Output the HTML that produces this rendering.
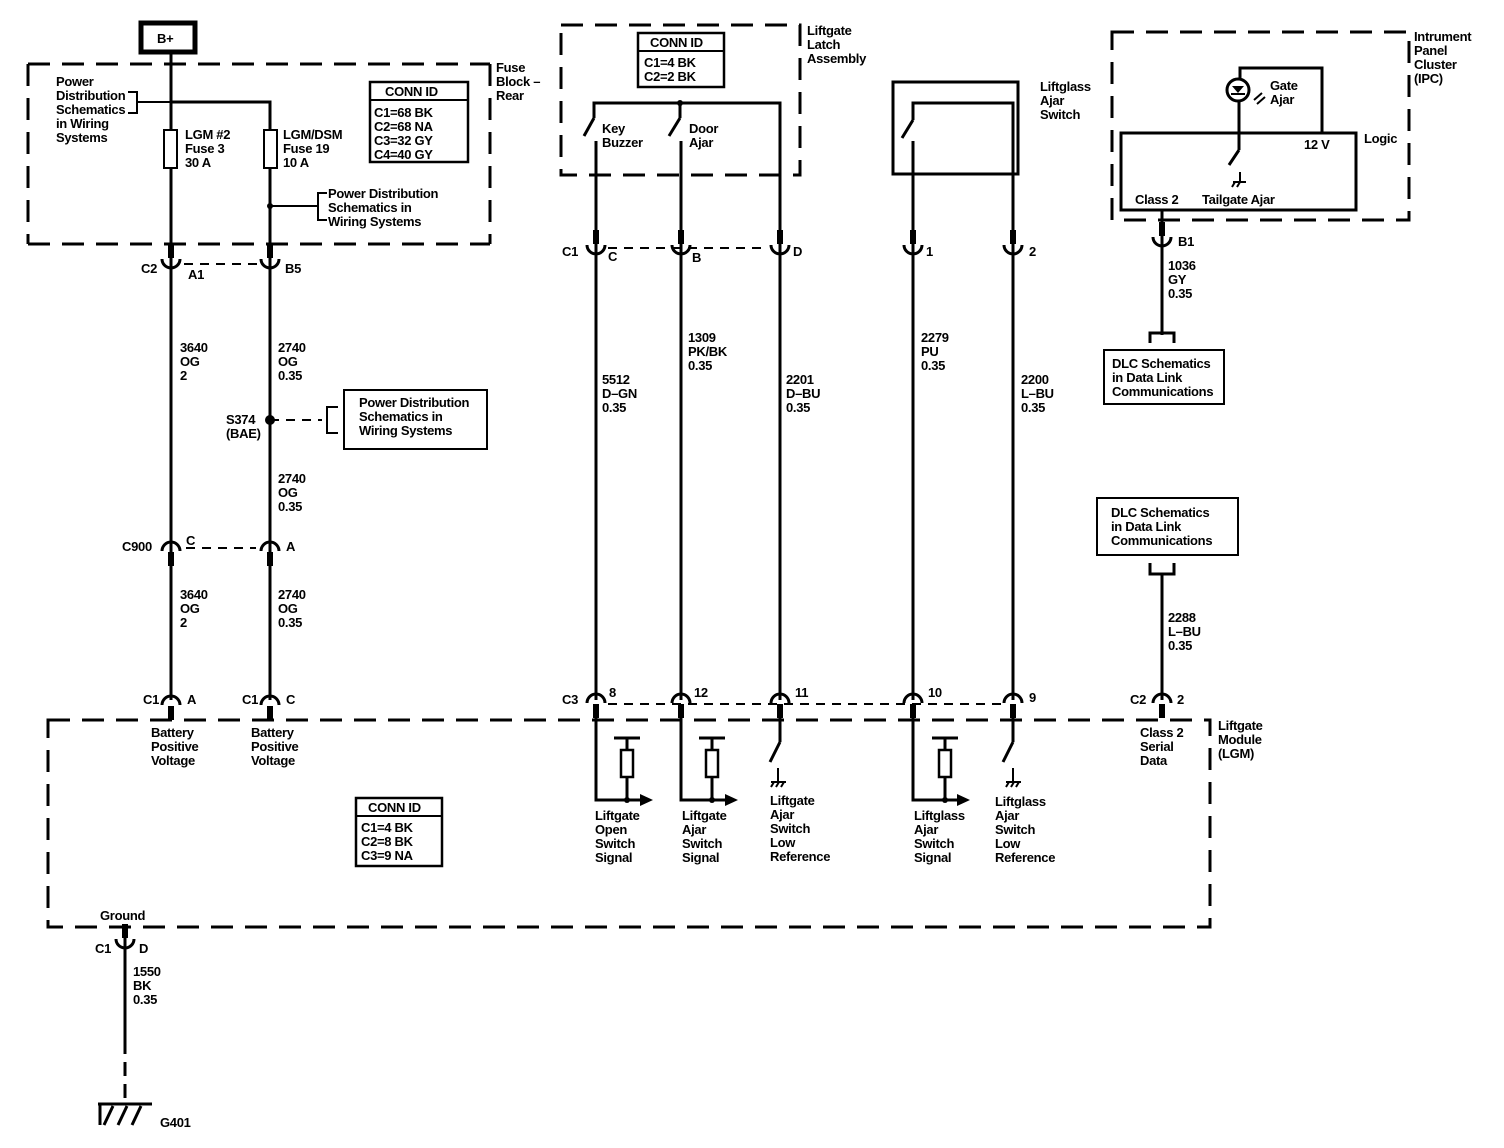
<!DOCTYPE html>
<html><head><style>
html,body{margin:0;padding:0;background:#fff}
svg{display:block}
text{font-family:"Liberation Sans",Arial,sans-serif;font-size:13px;font-weight:bold;fill:#000;letter-spacing:-0.3px}
.w{stroke:#000;stroke-width:3;fill:none}
.t{stroke:#000;stroke-width:2;fill:none}
.d{stroke:#000;stroke-width:3;fill:none;stroke-dasharray:22,12}
.ds{stroke:#000;stroke-width:2;fill:none;stroke-dasharray:9,7}
</style></head><body>
<svg width="1504" height="1148" viewBox="0 0 1504 1148">
<defs>
<g id="dn"><path class="w" d="M-9,-5 A9,9 0 0 0 9,-5"/><rect x="-3" y="-20" width="6" height="14" fill="#000"/></g>
<g id="up"><path class="w" d="M-9,5 A9,9 0 0 1 9,5"/><rect x="-3" y="6" width="6" height="14" fill="#000"/></g>
</defs>

<!-- B+ -->
<rect x="141" y="23" width="54" height="29" fill="none" stroke="#000" stroke-width="5"/>
<text x="157" y="43">B+</text>

<!-- Fuse block -->
<path class="d" d="M28,64 L490,64 M490,64 L490,244 M28,244 L490,244 M28,64 L28,244"/>
<text x="496" y="72">Fuse</text><text x="496" y="86">Block –</text><text x="496" y="100">Rear</text>
<text x="56" y="86">Power</text><text x="56" y="100">Distribution</text><text x="56" y="114">Schematics</text><text x="56" y="128">in Wiring</text><text x="56" y="142">Systems</text>
<path class="t" d="M128,92 L137,92 L137,113 L128,113"/>
<line class="t" x1="137" y1="102" x2="171" y2="102"/>
<line class="w" x1="171" y1="52" x2="171" y2="700"/>
<polyline class="w" points="171,102 270,102 270,700"/>
<rect x="164" y="130" width="13" height="38" fill="#fff" stroke="#000" stroke-width="2"/>
<rect x="264" y="130" width="13" height="38" fill="#fff" stroke="#000" stroke-width="2"/>
<text x="185" y="139">LGM #2</text><text x="185" y="153">Fuse 3</text><text x="185" y="167">30 A</text>
<text x="283" y="139">LGM/DSM</text><text x="283" y="153">Fuse 19</text><text x="283" y="167">10 A</text>
<circle cx="270" cy="206" r="3"/>
<line class="t" x1="270" y1="206" x2="318" y2="206"/>
<path class="t" d="M327,193 L318,193 L318,220 L327,220"/>
<text x="328" y="198">Power Distribution</text><text x="328" y="212">Schematics in</text><text x="328" y="226">Wiring Systems</text>
<rect x="370" y="82" width="98" height="80" fill="none" stroke="#000" stroke-width="2.5"/>
<line class="t" x1="370" y1="100" x2="468" y2="100"/>
<text x="385" y="96">CONN ID</text>
<text x="374" y="117">C1=68 BK</text><text x="374" y="131">C2=68 NA</text><text x="374" y="145">C3=32 GY</text><text x="374" y="159">C4=40 GY</text>

<!-- C2 connectors -->
<rect x="0" y="0" width="0" height="0"/>
<use href="#dn" x="171" y="264"/><use href="#dn" x="270" y="264"/>
<line class="ds" x1="184" y1="264" x2="258" y2="264"/>
<text x="141" y="273">C2</text><text x="188" y="279">A1</text><text x="285" y="273">B5</text>
<text x="180" y="352">3640</text><text x="180" y="366">OG</text><text x="180" y="380">2</text>
<text x="278" y="352">2740</text><text x="278" y="366">OG</text><text x="278" y="380">0.35</text>
<circle cx="270" cy="420" r="5"/>
<line class="ds" x1="270" y1="420" x2="322" y2="420"/>
<path class="t" d="M338,407 L327,407 L327,433 L338,433"/>
<rect x="344" y="390" width="143" height="59" fill="none" stroke="#000" stroke-width="2"/>
<text x="359" y="407">Power Distribution</text><text x="359" y="421">Schematics in</text><text x="359" y="435">Wiring Systems</text>
<text x="226" y="424">S374</text><text x="226" y="438">(BAE)</text>
<text x="278" y="483">2740</text><text x="278" y="497">OG</text><text x="278" y="511">0.35</text>
<use href="#up" x="171" y="546"/><use href="#up" x="270" y="546"/>
<line class="ds" x1="186" y1="548" x2="256" y2="548"/>
<text x="122" y="551">C900</text><text x="186" y="545">C</text><text x="286" y="551">A</text>
<text x="180" y="599">3640</text><text x="180" y="613">OG</text><text x="180" y="627">2</text>
<text x="278" y="599">2740</text><text x="278" y="613">OG</text><text x="278" y="627">0.35</text>
<use href="#up" x="171" y="700"/><use href="#up" x="270" y="700"/>
<text x="143" y="704">C1</text><text x="187" y="704">A</text>
<text x="242" y="704">C1</text><text x="286" y="704">C</text>
<text x="151" y="737">Battery</text><text x="151" y="751">Positive</text><text x="151" y="765">Voltage</text>
<text x="251" y="737">Battery</text><text x="251" y="751">Positive</text><text x="251" y="765">Voltage</text>

<!-- Module -->
<path class="d" d="M48,720 L1210,720 L1210,927 L48,927 Z"/>
<text x="1218" y="730">Liftgate</text><text x="1218" y="744">Module</text><text x="1218" y="758">(LGM)</text>
<rect x="356" y="798" width="86" height="68" fill="none" stroke="#000" stroke-width="2.5"/>
<line class="t" x1="356" y1="816" x2="442" y2="816"/>
<text x="368" y="812">CONN ID</text>
<text x="361" y="832">C1=4 BK</text><text x="361" y="846">C2=8 BK</text><text x="361" y="860">C3=9 NA</text>
<text x="100" y="920">Ground</text>
<use href="#dn" x="125" y="944"/>
<text x="95" y="953">C1</text><text x="139" y="953">D</text>
<line class="w" x1="125" y1="927" x2="125" y2="944"/>
<line class="w" x1="125" y1="944" x2="125" y2="1040"/>
<line class="w" x1="125" y1="1040" x2="125" y2="1104" stroke-dasharray="14,8"/>
<text x="133" y="976">1550</text><text x="133" y="990">BK</text><text x="133" y="1004">0.35</text>
<path class="w" d="M98,1104 L152,1104 M100,1104 L100,1125 M113,1106 L104,1125 M127,1106 L118,1125 M141,1106 L132,1125"/>
<text x="160" y="1127">G401</text>

<!-- Liftgate latch -->
<path class="d" d="M561,25 L800,25 L800,175 L561,175 Z"/>
<text x="807" y="35">Liftgate</text><text x="807" y="49">Latch</text><text x="807" y="63">Assembly</text>
<rect x="638" y="33" width="86" height="54" fill="none" stroke="#000" stroke-width="2.5"/>
<line class="t" x1="638" y1="51" x2="724" y2="51"/>
<text x="650" y="47">CONN ID</text>
<text x="644" y="67">C1=4 BK</text><text x="644" y="81">C2=2 BK</text>
<polyline class="w" points="594,118 594,103 780,103 780,700"/>
<circle cx="680" cy="103" r="3"/>
<line class="w" x1="680" y1="103" x2="680" y2="118"/>
<line class="w" x1="594" y1="118" x2="584" y2="136"/>
<line class="w" x1="680" y1="118" x2="669" y2="136"/>
<line class="w" x1="596" y1="141" x2="596" y2="700"/>
<line class="w" x1="681" y1="141" x2="681" y2="700"/>
<text x="602" y="133">Key</text><text x="602" y="147">Buzzer</text>
<text x="689" y="133">Door</text><text x="689" y="147">Ajar</text>
<use href="#dn" x="596" y="250"/><use href="#dn" x="681" y="250"/><use href="#dn" x="780" y="250"/>
<line class="ds" x1="608" y1="248" x2="768" y2="248"/>
<text x="562" y="256">C1</text><text x="608" y="261">C</text><text x="692" y="262">B</text><text x="793" y="256">D</text>
<text x="602" y="384">5512</text><text x="602" y="398">D–GN</text><text x="602" y="412">0.35</text>
<text x="688" y="342">1309</text><text x="688" y="356">PK/BK</text><text x="688" y="370">0.35</text>
<text x="786" y="384">2201</text><text x="786" y="398">D–BU</text><text x="786" y="412">0.35</text>

<!-- Liftglass switch -->
<rect x="893" y="82" width="125" height="92" fill="none" stroke="#000" stroke-width="3"/>
<polyline class="w" points="913,120 913,103 1013,103 1013,700"/>
<line class="w" x1="913" y1="120" x2="902" y2="138"/>
<line class="w" x1="913" y1="141" x2="913" y2="700"/>
<text x="1040" y="91">Liftglass</text><text x="1040" y="105">Ajar</text><text x="1040" y="119">Switch</text>
<use href="#dn" x="913" y="250"/><use href="#dn" x="1013" y="250"/>
<text x="926" y="256">1</text><text x="1029" y="256">2</text>
<text x="921" y="342">2279</text><text x="921" y="356">PU</text><text x="921" y="370">0.35</text>
<text x="1021" y="384">2200</text><text x="1021" y="398">L–BU</text><text x="1021" y="412">0.35</text>

<!-- C3 module connectors -->
<use href="#up" x="596" y="698"/><use href="#up" x="681" y="698"/><use href="#up" x="780" y="698"/><use href="#up" x="913" y="698"/><use href="#up" x="1013" y="698"/>
<line class="ds" x1="608" y1="704" x2="1003" y2="704"/>
<text x="562" y="704">C3</text><text x="609" y="697">8</text><text x="694" y="697">12</text><text x="795" y="697">11</text><text x="928" y="697">10</text><text x="1029" y="702">9</text>
<!-- internal signal circuits -->
<g>
<polyline class="w" points="596,718 596,800 640,800"/><path d="M640,794 L653,800 L640,806Z"/>
<line class="w" x1="627" y1="738" x2="627" y2="800"/><line class="w" x1="614" y1="738" x2="640" y2="738"/>
<rect x="621" y="750" width="12" height="27" fill="#fff" stroke="#000" stroke-width="2.5"/><circle cx="627" cy="800" r="3"/>
</g>
<g>
<polyline class="w" points="681,718 681,800 725,800"/><path d="M725,794 L738,800 L725,806Z"/>
<line class="w" x1="712" y1="738" x2="712" y2="800"/><line class="w" x1="699" y1="738" x2="725" y2="738"/>
<rect x="706" y="750" width="12" height="27" fill="#fff" stroke="#000" stroke-width="2.5"/><circle cx="712" cy="800" r="3"/>
</g>
<g>
<polyline class="w" points="913,718 913,800 957,800"/><path d="M957,794 L970,800 L957,806Z"/>
<line class="w" x1="945" y1="738" x2="945" y2="800"/><line class="w" x1="932" y1="738" x2="958" y2="738"/>
<rect x="939" y="750" width="12" height="27" fill="#fff" stroke="#000" stroke-width="2.5"/><circle cx="945" cy="800" r="3"/>
</g>
<line class="w" x1="780" y1="718" x2="780" y2="742"/><line class="w" x1="780" y1="742" x2="770" y2="762"/>
<path class="t" d="M778,768 L778,782 M771,782 L786,782 M774,782 L771,787 M779,782 L776,787 M784,782 L781,787"/>
<line class="w" x1="1013" y1="718" x2="1013" y2="742"/><line class="w" x1="1013" y1="742" x2="1003" y2="762"/>
<path class="t" d="M1013,768 L1013,782 M1006,782 L1021,782 M1009,782 L1006,787 M1014,782 L1011,787 M1019,782 L1016,787"/>
<text x="595" y="820">Liftgate</text><text x="595" y="834">Open</text><text x="595" y="848">Switch</text><text x="595" y="862">Signal</text>
<text x="682" y="820">Liftgate</text><text x="682" y="834">Ajar</text><text x="682" y="848">Switch</text><text x="682" y="862">Signal</text>
<text x="770" y="805">Liftgate</text><text x="770" y="819">Ajar</text><text x="770" y="833">Switch</text><text x="770" y="847">Low</text><text x="770" y="861">Reference</text>
<text x="914" y="820">Liftglass</text><text x="914" y="834">Ajar</text><text x="914" y="848">Switch</text><text x="914" y="862">Signal</text>
<text x="995" y="806">Liftglass</text><text x="995" y="820">Ajar</text><text x="995" y="834">Switch</text><text x="995" y="848">Low</text><text x="995" y="862">Reference</text>

<!-- IPC -->
<path class="d" d="M1112,32 L1409,32 L1409,220 L1112,220 Z"/>
<text x="1414" y="41">Intrument</text><text x="1414" y="55">Panel</text><text x="1414" y="69">Cluster</text><text x="1414" y="83">(IPC)</text>
<rect x="1121" y="133" width="235" height="77" fill="none" stroke="#000" stroke-width="3"/>
<text x="1364" y="143">Logic</text>
<polyline class="w" points="1240,80 1240,68 1322,68 1322,133"/>
<circle cx="1238" cy="90" r="11" fill="none" stroke="#000" stroke-width="3"/>
<path d="M1232,86 L1244,86 L1238,93Z"/><line class="t" x1="1231" y1="94" x2="1245" y2="94"/>
<path class="t" d="M1254,100 L1262,93 M1257,104 L1265,97"/>
<text x="1270" y="90">Gate</text><text x="1270" y="104">Ajar</text>
<line class="w" x1="1239" y1="101" x2="1239" y2="150"/><line class="w" x1="1239" y1="150" x2="1229" y2="165"/>
<path class="t" d="M1240,172 L1240,182 M1233,182 L1246,182 M1235,182 L1232,187 M1240,182 L1237,187"/>
<text x="1304" y="149">12 V</text>
<text x="1135" y="204">Class 2</text><text x="1202" y="204">Tailgate Ajar</text>
<line class="w" x1="1162" y1="210" x2="1162" y2="335"/>
<use href="#dn" x="1162" y="242"/>
<text x="1178" y="246">B1</text>
<text x="1168" y="270">1036</text><text x="1168" y="284">GY</text><text x="1168" y="298">0.35</text>
<path class="w" d="M1150,343 L1150,333 L1174,333 L1174,343"/>
<rect x="1104" y="350" width="120" height="54" fill="none" stroke="#000" stroke-width="2"/>
<text x="1112" y="368">DLC Schematics</text><text x="1112" y="382">in Data Link</text><text x="1112" y="396">Communications</text>
<rect x="1097" y="498" width="141" height="57" fill="none" stroke="#000" stroke-width="2"/>
<text x="1111" y="517">DLC Schematics</text><text x="1111" y="531">in Data Link</text><text x="1111" y="545">Communications</text>
<path class="w" d="M1150,563 L1150,574 L1174,574 L1174,563"/>
<line class="w" x1="1162" y1="574" x2="1162" y2="700"/>
<text x="1168" y="622">2288</text><text x="1168" y="636">L–BU</text><text x="1168" y="650">0.35</text>
<use href="#up" x="1162" y="698"/>
<text x="1130" y="704">C2</text><text x="1177" y="704">2</text>
<text x="1140" y="737">Class 2</text><text x="1140" y="751">Serial</text><text x="1140" y="765">Data</text>
</svg>
</body></html>
